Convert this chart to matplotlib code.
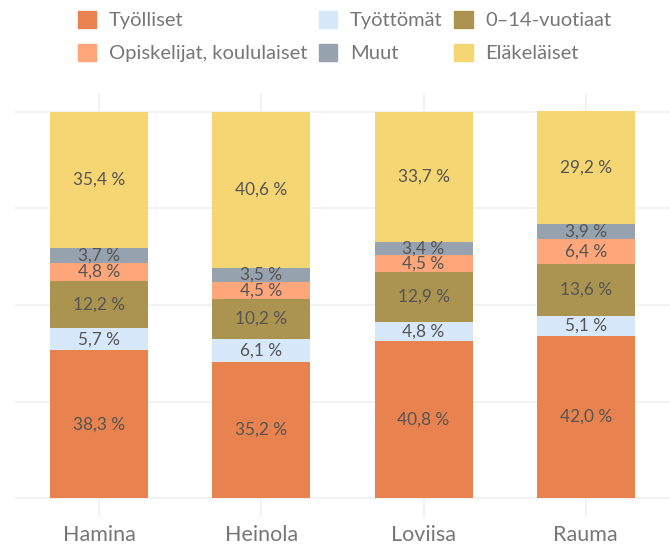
import matplotlib.pyplot as plt
from matplotlib.patches import Patch

cities = ["Hamina", "Heinola", "Loviisa", "Rauma"]
groups = ["Työlliset", "Työttömät", "0–14-vuotiaat",
          "Opiskelijat, koululaiset", "Muut", "Eläkeläiset"]
tyolliset = [38.3, 35.2, 40.8, 42.0]
tyottomat = [5.7, 6.1, 4.8, 5.1]
lapset = [12.2, 10.2, 12.9, 13.6]
opiskelijat = [4.8, 4.5, 4.5, 6.4]
muut = [3.7, 3.5, 3.4, 3.9]
elakelaiset = [35.4, 40.6, 33.7, 29.2]

colors = ["#E8834F", "#D6E8F9", "#AB944F", "#FFA77A", "#97A2AF", "#F6D672"]

plt.rcParams['font.family'] = ['Lato', 'DejaVu Sans']

fig = plt.figure(figsize=(6.7, 5.47), dpi=100)
ax = fig.add_axes([15 / 670, 30 / 547, 655 / 670, 424 / 547])

series = [tyolliset, tyottomat, lapset, opiskelijat, muut, elakelaiset]
bottom = [0.0] * len(cities)
x = list(range(len(cities)))
for vals, col in zip(series, colors):
    ax.bar(x, vals, bottom=bottom, width=0.605, color=col, zorder=2)
    for i, v in enumerate(vals):
        ax.text(i, bottom[i] + v / 2, f"{v:.1f} %".replace(".", ","),
                ha='center', va='center', fontsize=12.4, color='#555555', zorder=3)
    bottom = [b + v for b, v in zip(bottom, vals)]

ax.set_xlim(-0.52, 3.52)
ax.set_ylim(-4.9, 104.9)
ax.set_yticks([0, 25, 50, 75, 100])
ax.set_yticklabels([])
ax.set_xticks(x)
ax.set_xticklabels(cities, fontsize=15.5, color='#777777')
ax.tick_params(length=0, pad=6)
ax.grid(True, color='#F0F0F0', linewidth=1.2, zorder=0)
for s in ax.spines.values():
    s.set_visible(False)

order = [0, 3, 1, 4, 2, 5]
handles = [Patch(color=colors[i], label=groups[i]) for i in order]
fig.legend(handles=handles, ncol=3, loc='upper left', bbox_to_anchor=(78 / 670, 1 - 11 / 547),
           frameon=False, fontsize=14.5, labelcolor='#777777', handlelength=0.9,
           handleheight=0.9, handletextpad=0.62, columnspacing=0.6, labelspacing=0.72,
           borderpad=0, borderaxespad=0)

fig.savefig("out.png", dpi=100)
